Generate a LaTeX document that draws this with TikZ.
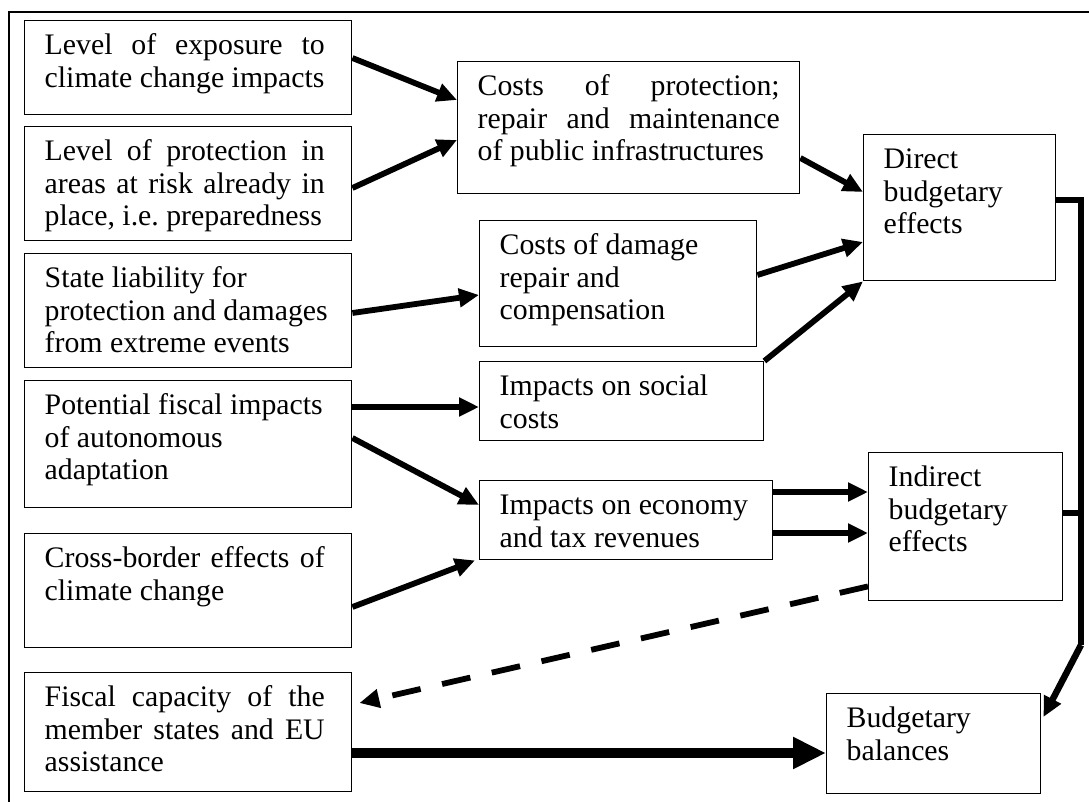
\documentclass[tikz,border=0pt]{standalone}
\usepackage{fontspec}
\setmainfont{Liberation Serif}
\usetikzlibrary{arrows.meta,positioning}
\tikzset{
	>={Triangle[length=20pt,width=18pt]},
}
% one justified line of a box
\newcommand{\jline}[2][280pt]{{\spaceskip=0pt\xspaceskip=0pt\makebox[#1][s]{#2}}}

\begin{document}
\begin{tikzpicture}[x=1pt,y=-1pt,
box/.style = {draw, line width=1.4pt, anchor=north west, align=flush left, inner xsep=20pt, inner ysep=0pt, text height=34pt, font=\fontsize{29.8pt}{32.5pt}\selectfont\frenchspacing},
link/.style = {->, line width=5.8pt},
bus/.style = {line width=6.5pt}]
\useasboundingbox (0,0) rectangle (1089,802);
\draw[line width=1.6pt] (9,802) -- (9,12) -- (1089,12);
% left column
\node[box,text width=287pt,text depth=60pt] (expo) at (24,20) {\jline{Level of exposure to}\\ climate change impacts};
\node[box,text width=287pt,text depth=80pt] (prot) at (24,126) {\jline{Level of protection in}\\ \jline{areas at risk already in}\\ place, i.e. preparedness};
\node[box,text width=287pt,text depth=80pt] (liab) at (24,253) {State liability for\\ protection and damages\\ from extreme events};
\node[box,text width=287pt,text depth=93pt] (auto) at (24,380) {Potential fiscal impacts\\ of autonomous\\ adaptation};
\node[box,text width=287pt,text depth=80pt] (cross) at (24,533) {\jline{Cross-border effects of}\\ climate change};
\node[box,text width=287pt,text depth=85pt] (fisc) at (24,672) {\jline{Fiscal capacity of the}\\ \jline{member states and EU}\\ assistance};
% middle column
\node[box,text width=302pt,text depth=98pt] (cprot) at (457,61) {\jline[302pt]{Costs of protection;}\\ \jline[302pt]{repair and maintenance}\\ of public infrastructures};
\node[box,text width=237pt,text depth=92pt] (cdam) at (479,220) {Costs of damage\\ repair and\\ compensation};
\node[box,text width=244pt,text depth=45pt] (social) at (479,361) {Impacts on social\\ costs};
\node[box,text width=253pt,text depth=45pt] (econ) at (479,480) {Impacts on economy\\ and tax revenues};
% right column
\node[box,text width=152pt,text depth=112pt] (direct) at (863,134) {Direct\\ budgetary\\ effects};
\node[box,text width=154pt,text depth=114pt] (indirect) at (868,452) {Indirect\\ budgetary\\ effects};
\node[box,text width=174pt,text depth=66pt] (balance) at (826,693) {Budgetary\\ balances};

\draw[link] ([yshift=-38pt]expo.north east) -- ([yshift=-39pt]cprot.north west);
\draw[link] ([yshift=-62pt]prot.north east) -- ([yshift=-79pt]cprot.north west);
\draw[link] ([yshift=-97pt]cprot.north east) -- ([yshift=-58pt]direct.north west);
\draw[link] ([yshift=-55pt]cdam.north east) -- ([yshift=-108pt]direct.north west);
\draw[link] (social.north east) -- (direct.south west);
\draw[link] ([yshift=-60pt]liab.north east) -- ([yshift=-75pt]cdam.north west);
\draw[link] ([yshift=-27pt]auto.north east) -- ([yshift=-46pt]social.north west);
\draw[link] ([yshift=-58pt]auto.north east) -- ([yshift=-25pt]econ.north west);
\draw[link] ([yshift=-74pt]cross.north east) -- ([xshift=-4pt]econ.south west);
\draw[link] ([yshift=-12pt]econ.north east) -- ([yshift=-40pt]indirect.north west);
\draw[link] ([yshift=-53pt]econ.north east) -- ([yshift=-81pt]indirect.north west);
\draw[link,dash pattern=on 29pt off 22pt] ([yshift=15pt]indirect.south west) -- ([xshift=7pt,yshift=-31pt]fisc.north east);
\draw[->,line width=9.5pt,>={Triangle[length=33pt,width=30pt]}] ([yshift=-81pt]fisc.north east) -- ([yshift=-60pt]balance.north west);
% merging line
\coordinate (bustop) at (1081,200);
\coordinate (busbot) at (1081,645);
\coordinate (indout) at ([yshift=-61pt]indirect.north east);
\draw[bus] ([yshift=-66pt]direct.north east) -- (bustop) -- (busbot);
\draw[bus] (indout) -- (indout -| bustop);
\draw[link,line width=6.5pt] (busbot) -- ([xshift=2pt,yshift=-24pt]balance.north east);
\end{tikzpicture}
\end{document}
